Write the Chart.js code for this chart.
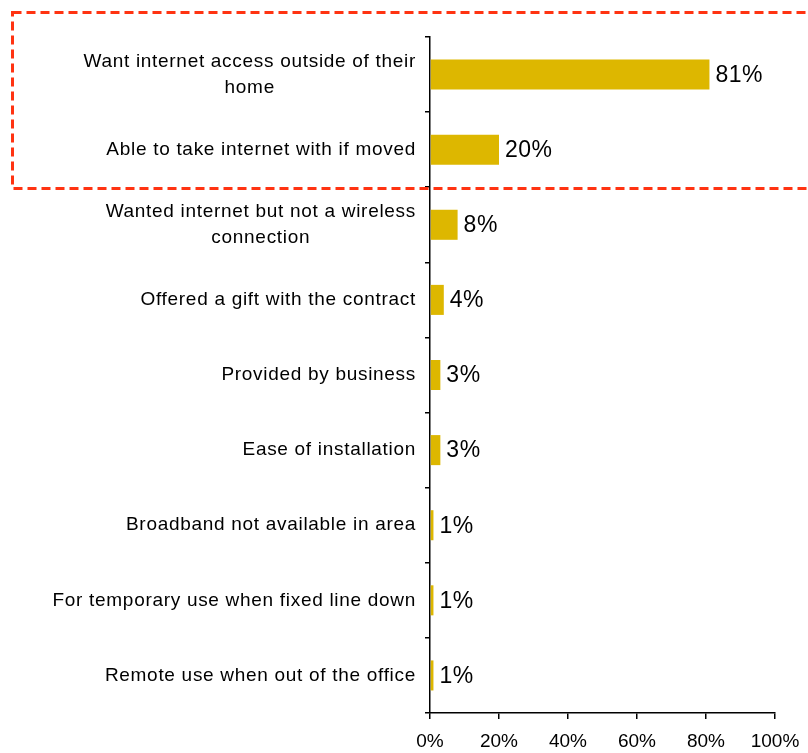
<!DOCTYPE html>
<html>
<head>
<meta charset="utf-8">
<script src="https://cdn.jsdelivr.net/npm/chart.js@4.4.1/dist/chart.umd.min.js"></script>
<style>
  html, body { margin: 0; padding: 0; background: #fff; }
  #reasons { display: block; }
</style>
</head>
<body>
<canvas id="reasons" width="808" height="753"></canvas>
<script>
// Reasons given for choosing mobile broadband (share of respondents)
const categories = [
  ['Want internet access outside of their', 'home'],
  ['Able to take internet with if moved'],
  ['Wanted internet but not a wireless', 'connection'],
  ['Offered a gift with the contract'],
  ['Provided by business'],
  ['Ease of installation'],
  ['Broadband not available in area'],
  ['For temporary use when fixed line down'],
  ['Remote use when out of the office']
];
const shares = [81, 20, 8, 4, 3, 3, 1, 1, 1];
const xTicks = [0, 20, 40, 60, 80, 100];

const FONT = '"Liberation Sans", Arial, sans-serif';

// Category names, centred as a block and right-aligned against the axis
const categoryLabels = {
  id: 'categoryLabels',
  afterDraw(chart) {
    const ctx = chart.ctx;
    const yScale = chart.scales.y;
    const right = 416;
    const lineHeight = 26;
    ctx.save();
    ctx.font = '19px ' + FONT;
    ctx.letterSpacing = '0.7px';
    ctx.fillStyle = '#000';
    ctx.textAlign = 'center';
    ctx.textBaseline = 'middle';
    categories.forEach((lines, i) => {
      const y = yScale.getPixelForTick(i);
      const w = Math.max(...lines.map(l => ctx.measureText(l).width));
      const cx = right - w / 2;
      lines.forEach((line, j) => {
        ctx.fillText(line, cx, y + (j - (lines.length - 1) / 2) * lineHeight);
      });
    });
    ctx.restore();
  }
};

// Percentage value at the end of each bar
const valueLabels = {
  id: 'valueLabels',
  afterDatasetsDraw(chart) {
    const ctx = chart.ctx;
    const bars = chart.getDatasetMeta(0).data;
    ctx.save();
    ctx.font = '23px ' + FONT;
    ctx.letterSpacing = '0.5px';
    ctx.fillStyle = '#000';
    ctx.textAlign = 'left';
    ctx.textBaseline = 'middle';
    bars.forEach((bar, i) => {
      ctx.fillText(shares[i] + '%', bar.x + 6, bar.y + 1);
    });
    ctx.restore();
  }
};

// Dashed highlight around the two leading reasons
const highlightBox = {
  id: 'highlightBox',
  afterDraw(chart) {
    const ctx = chart.ctx;
    ctx.save();
    ctx.strokeStyle = '#FF3311';
    ctx.lineWidth = 3;
    ctx.setLineDash([9, 5]);
    ctx.strokeRect(12.5, 12.5, 820, 176);
    ctx.restore();
  }
};

new Chart(document.getElementById('reasons'), {
  type: 'bar',
  data: {
    labels: categories.map(l => l.join(' ')),
    datasets: [{
      data: shares,
      backgroundColor: '#DDB700',
      borderWidth: 0,
      barPercentage: 0.4,
      categoryPercentage: 1
    }]
  },
  options: {
    indexAxis: 'y',
    responsive: false,
    animation: false,
    layout: {
      padding: { left: 0, top: 37, right: 33, bottom: 0 }
    },
    plugins: {
      legend: { display: false },
      tooltip: { enabled: false }
    },
    scales: {
      x: {
        min: 0,
        max: 100,
        afterBuildTicks: (scale) => {
          scale.ticks = xTicks.map(v => ({ value: v }));
        },
        afterFit: (scale) => {
          // the end labels fit inside the fixed margins
          scale.height = 40;
          scale.paddingLeft = 0;
          scale.paddingRight = 0;
        },
        ticks: {
          callback: v => v + '%',
          color: '#000',
          font: { family: FONT, size: 19 },
          padding: 11,
          maxRotation: 0
        },
        grid: {
          drawOnChartArea: false,
          tickLength: 6,
          color: '#000',
          lineWidth: 1.5
        },
        border: { color: '#000', width: 1.5 }
      },
      y: {
        ticks: { display: false },
        afterFit: (scale) => { scale.width = 430; },
        grid: {
          drawOnChartArea: false,
          offset: true,
          tickLength: 5,
          color: '#000',
          lineWidth: 1.5
        },
        border: { color: '#000', width: 1.5 }
      }
    }
  },
  plugins: [categoryLabels, valueLabels, highlightBox]
});
</script>
</body>
</html>
